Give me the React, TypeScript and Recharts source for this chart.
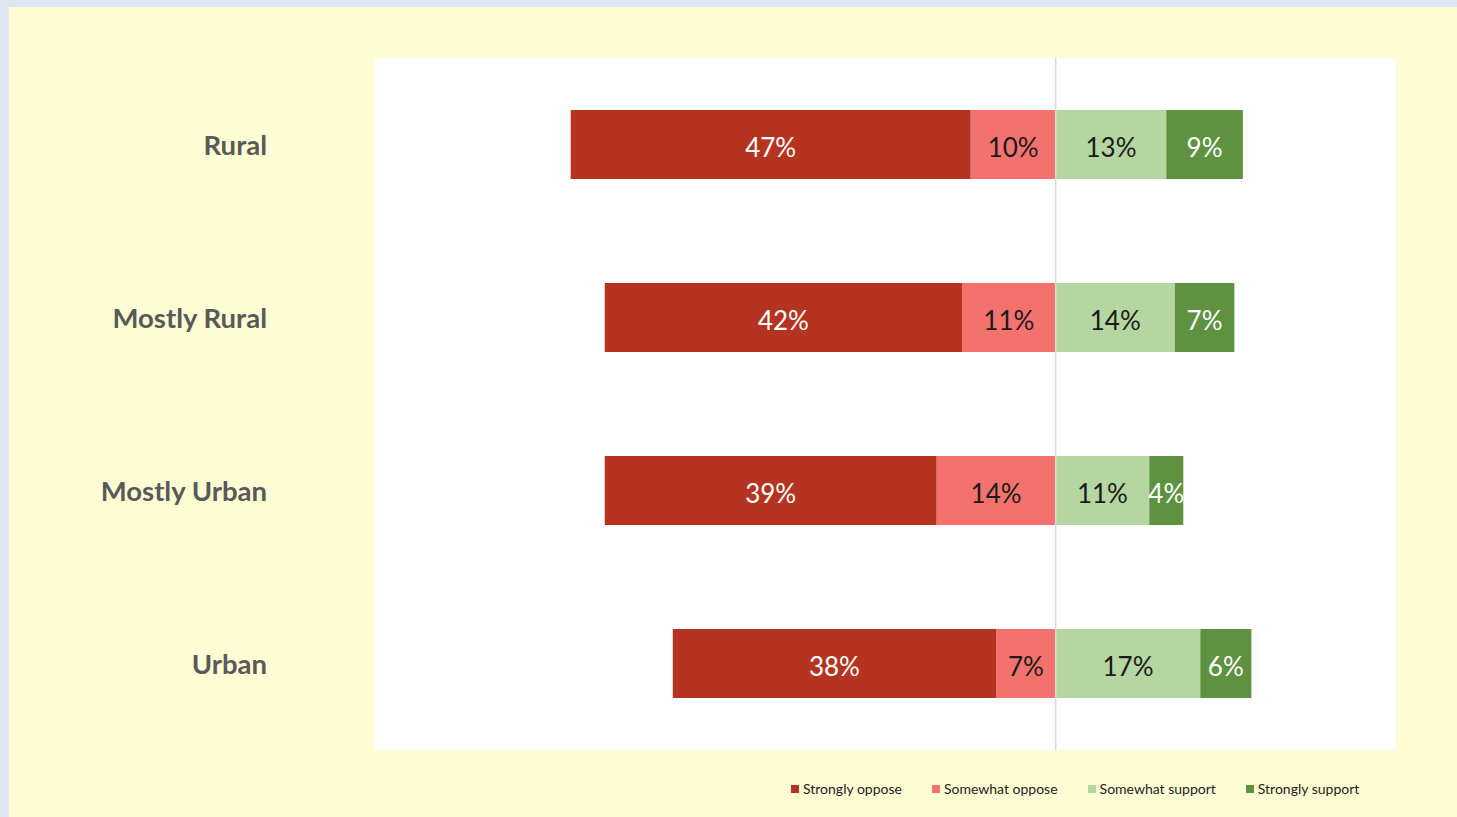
import { BarChart, Bar, XAxis, YAxis, CartesianGrid, ReferenceLine, LabelList } from 'recharts';

const categories = ['Rural', 'Mostly Rural', 'Mostly Urban', 'Urban'];
const stronglyOppose = [47, 42, 39, 38];
const somewhatOppose = [10, 11, 14, 7];
const somewhatSupport = [13, 14, 11, 17];
const stronglySupport = [9, 7, 4, 6];

const SERIES = [
  { key: 'stronglyOppose', name: 'Strongly oppose', color: '#b53321', text: '#ffffff' },
  { key: 'somewhatOppose', name: 'Somewhat oppose', color: '#f4726e', text: '#1a1a1a' },
  { key: 'somewhatSupport', name: 'Somewhat support', color: '#b5d6a0', text: '#1a1a1a' },
  { key: 'stronglySupport', name: 'Strongly support', color: '#5e9140', text: '#ffffff' },
];

// oppose values go to the left of zero
const data = categories.map((name, i) => ({
  name,
  stronglyOppose: -stronglyOppose[i],
  somewhatOppose: -somewhatOppose[i],
  somewhatSupport: somewhatSupport[i],
  stronglySupport: stronglySupport[i],
}));

const FONT = 'Lato, "Open Sans", sans-serif';

function LegendBox() {
  return (
    <div style={{ display: 'flex', gap: 30, fontFamily: FONT, fontSize: 14, color: '#222' }}>
      {SERIES.map((s) => (
        <span key={s.key} style={{ display: 'flex', alignItems: 'center' }}>
          <span style={{ width: 8, height: 8, background: s.color, marginRight: 4 }} />
          {s.name}
        </span>
      ))}
    </div>
  );
}

function CategoryTick(props: any) {
  const { x, y, payload } = props;
  return (
    <text x={x} y={y + 3} textAnchor="end" dominantBaseline="middle"
      style={{ fontFamily: FONT, fontSize: 27.5, fontWeight: 700, fill: '#595959' }}>
      {payload.value}
    </text>
  );
}

export default function App() {
  // stacking order with stackOffset="sign": inner segments first
  const order = ['somewhatOppose', 'stronglyOppose', 'somewhatSupport', 'stronglySupport'];
  return (
    <div style={{ position: 'absolute', left: 0, top: 0, width: 1457, height: 817, background: '#dfe6f1' }}>
      <div style={{ position: 'absolute', left: 9, top: 7, width: 1448, height: 810, background: '#fffdd3' }} />
      <div style={{ position: 'absolute', left: 0, top: 0 }}>
        <BarChart
          width={1457}
          height={817}
          data={data}
          layout="vertical"
          stackOffset="sign"
          barSize={69}
          margin={{ top: 58, right: 61, bottom: 67, left: 0 }}
        >
          <CartesianGrid horizontal={false} vertical={false} fill="#ffffff" />
          <XAxis type="number" domain={[-80, 40]} hide />
          <YAxis
            type="category"
            dataKey="name"
            width={375}
            axisLine={false}
            tickLine={false}
            tickMargin={102}
            tick={<CategoryTick />}
          />
          <ReferenceLine x={0} stroke="#d9d9d9" strokeWidth={1.5} />
          {order.map((k) => {
            const s = SERIES.find((x) => x.key === k)!;
            return (
              <Bar key={k} dataKey={k} name={s.name} stackId="a" fill={s.color} isAnimationActive={false}>
                <LabelList
                  dataKey={k}
                  position="center"
                  offset={0}
                  formatter={(v: any) => `${Math.abs(Number(v))}%`}
                  style={{ fontFamily: FONT, fontSize: 26, fill: s.text, transform: 'translateY(3px)' }}
                />
              </Bar>
            );
          })}
        </BarChart>
      </div>
      <div style={{ position: 'absolute', left: 791, top: 780 }}>
        <LegendBox />
      </div>
    </div>
  );
}
